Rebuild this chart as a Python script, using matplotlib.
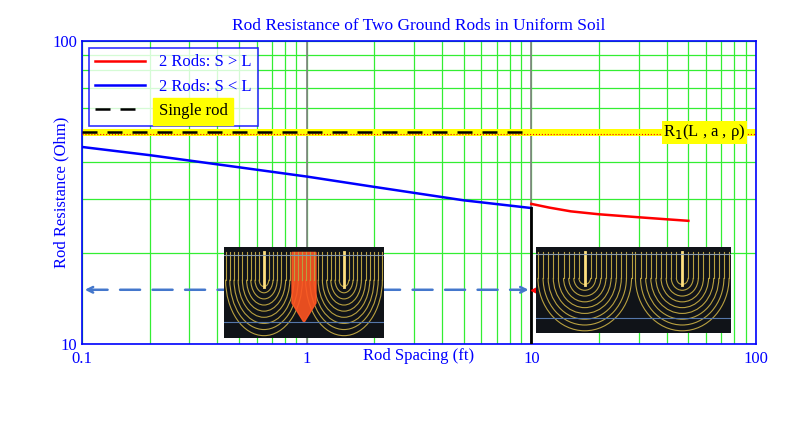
import numpy as np
import matplotlib
matplotlib.use("Agg")
import matplotlib.pyplot as plt
from matplotlib.patches import Arc, Polygon
from matplotlib.lines import Line2D

plt.rcParams['font.family'] = ['Liberation Serif', 'DejaVu Serif']

# data
single_rod = 50.0
blue_x = [0.1, 0.2, 0.5, 1.0, 2.0, 5.0, 10.0]
blue_y = [44.7, 42.0, 38.3, 35.7, 33.0, 29.8, 28.1]
red_x = [10.0, 12, 15, 20, 30, 40, 50]
red_y = [29.0, 28.2, 27.4, 26.8, 26.2, 25.8, 25.5]
arrow_y = 15.1

fig = plt.figure(figsize=(8, 4.21), dpi=100)
ax = fig.add_axes([82/800, 1-344/421, 674/800, 303/421])
ax.set_xscale('log'); ax.set_yscale('log')
ax.set_xlim(0.1, 100); ax.set_ylim(10, 100)
ax.grid(True, which='both', color='#33ee33', lw=0.9)
for s in ax.spines.values():
    s.set_color('blue'); s.set_linewidth(1.2)
ax.tick_params(which='both', length=0, colors='blue', labelsize=12)
ax.tick_params(axis='x', pad=5)
ax.set_xticks([0.1, 1, 10, 100]); ax.set_xticklabels(['0.1', '1', '10', '100'])
ax.set_yticks([10, 100]); ax.set_yticklabels(['10', '100'])
ax.xaxis.set_minor_formatter(matplotlib.ticker.NullFormatter())
ax.yaxis.set_minor_formatter(matplotlib.ticker.NullFormatter())
ax.set_xlabel('Rod Spacing (ft)', color='blue', fontsize=12, labelpad=-14)
ax.set_ylabel('Rod Resistance (Ohm)', color='blue', fontsize=12, labelpad=-12)
ax.set_title('Rod Resistance of Two Ground Rods in Uniform Soil', color='blue', fontsize=12.5, pad=8)

ax.axvline(1, color='gray', lw=1.2, zorder=2)
ax.axvline(10, color='gray', lw=1.2, zorder=2)
ax.axhspan(single_rod*0.975, single_rod*1.025, color='yellow', zorder=2, lw=0)
ax.axhline(single_rod*0.985, color='red', lw=0.8, ls=':', zorder=3)
ax.plot([0.1, 10], [single_rod, single_rod], color='black', ls=(0, (6, 4)), lw=1.8, zorder=4)
ax.text(90, single_rod, r'R$_1$(L , a , ρ)', ha='right', va='center', fontsize=12,
        bbox=dict(facecolor='yellow', edgecolor='none', pad=1), zorder=5)

ax.plot(blue_x, blue_y, color='blue', lw=1.8, zorder=5)
ax.plot(red_x, red_y, color='red', lw=1.8, zorder=5)
ax.plot([10, 10], [10, blue_y[-1]], color='black', lw=2, zorder=6)
ax.annotate('', xy=(10, arrow_y), xytext=(0.1, arrow_y),
            arrowprops=dict(arrowstyle='<->', color='#4477cc', lw=1.8, ls=(0, (8, 5))), zorder=6)
ax.plot([10.5], [arrow_y], marker='<', color='red', ms=7, zorder=7)

h = [Line2D([], [], color='red', lw=1.8), Line2D([], [], color='blue', lw=1.8),
     Line2D([], [], color='black', ls=(0, (6, 4)), lw=1.8)]
leg = ax.legend(h, ['2 Rods: S > L', '2 Rods: S < L', 'Single rod'], loc='upper left',
                fancybox=False, edgecolor='blue', fontsize=12, labelcolor='blue',
                borderaxespad=0.4, handlelength=3)
leg.get_frame().set_linewidth(1.2)
leg.get_texts()[2].set_color('black')
leg.get_texts()[2].set_backgroundcolor('yellow')

def inset(x0, y0, w, h, hot):
    ia = fig.add_axes([x0/800, 1-(y0+h)/421, w/800, h/421])
    ia.set_facecolor('#101318')
    ia.set_xlim(0, 2); ia.set_ylim(-1.05, 0.12)
    ia.set_xticks([]); ia.set_yticks([])
    for s in ia.spines.values(): s.set_visible(False)
    for cx in (0.5, 1.5):
        for r in np.linspace(0.06, 0.48, 9):
            ia.add_patch(Arc((cx, -0.3), 2*r, 2*r*1.5, theta1=180, theta2=360, color='#b8a040', lw=0.8))
            ia.plot([cx-r, cx-r], [-0.3, 0.05], color='#b8a040', lw=0.8)
            ia.plot([cx+r, cx+r], [-0.3, 0.05], color='#b8a040', lw=0.8)
        ia.plot([cx, cx], [0.05, -0.4], color='#ffe080', lw=2)
    if hot:
        ia.add_patch(Polygon([[0.85, 0.05], [1.15, 0.05], [1.15, -0.6], [1.0, -0.85], [0.85, -0.6]],
                             color='#ff5522', alpha=0.9))
    ia.axhline(0.02, color='#8899aa', lw=0.8)
    ia.axhline(-0.85, color='#5577aa', lw=0.8)

inset(224, 247, 160, 91, True)
inset(536, 247, 195, 86, False)

fig.savefig('out.png', dpi=100)
